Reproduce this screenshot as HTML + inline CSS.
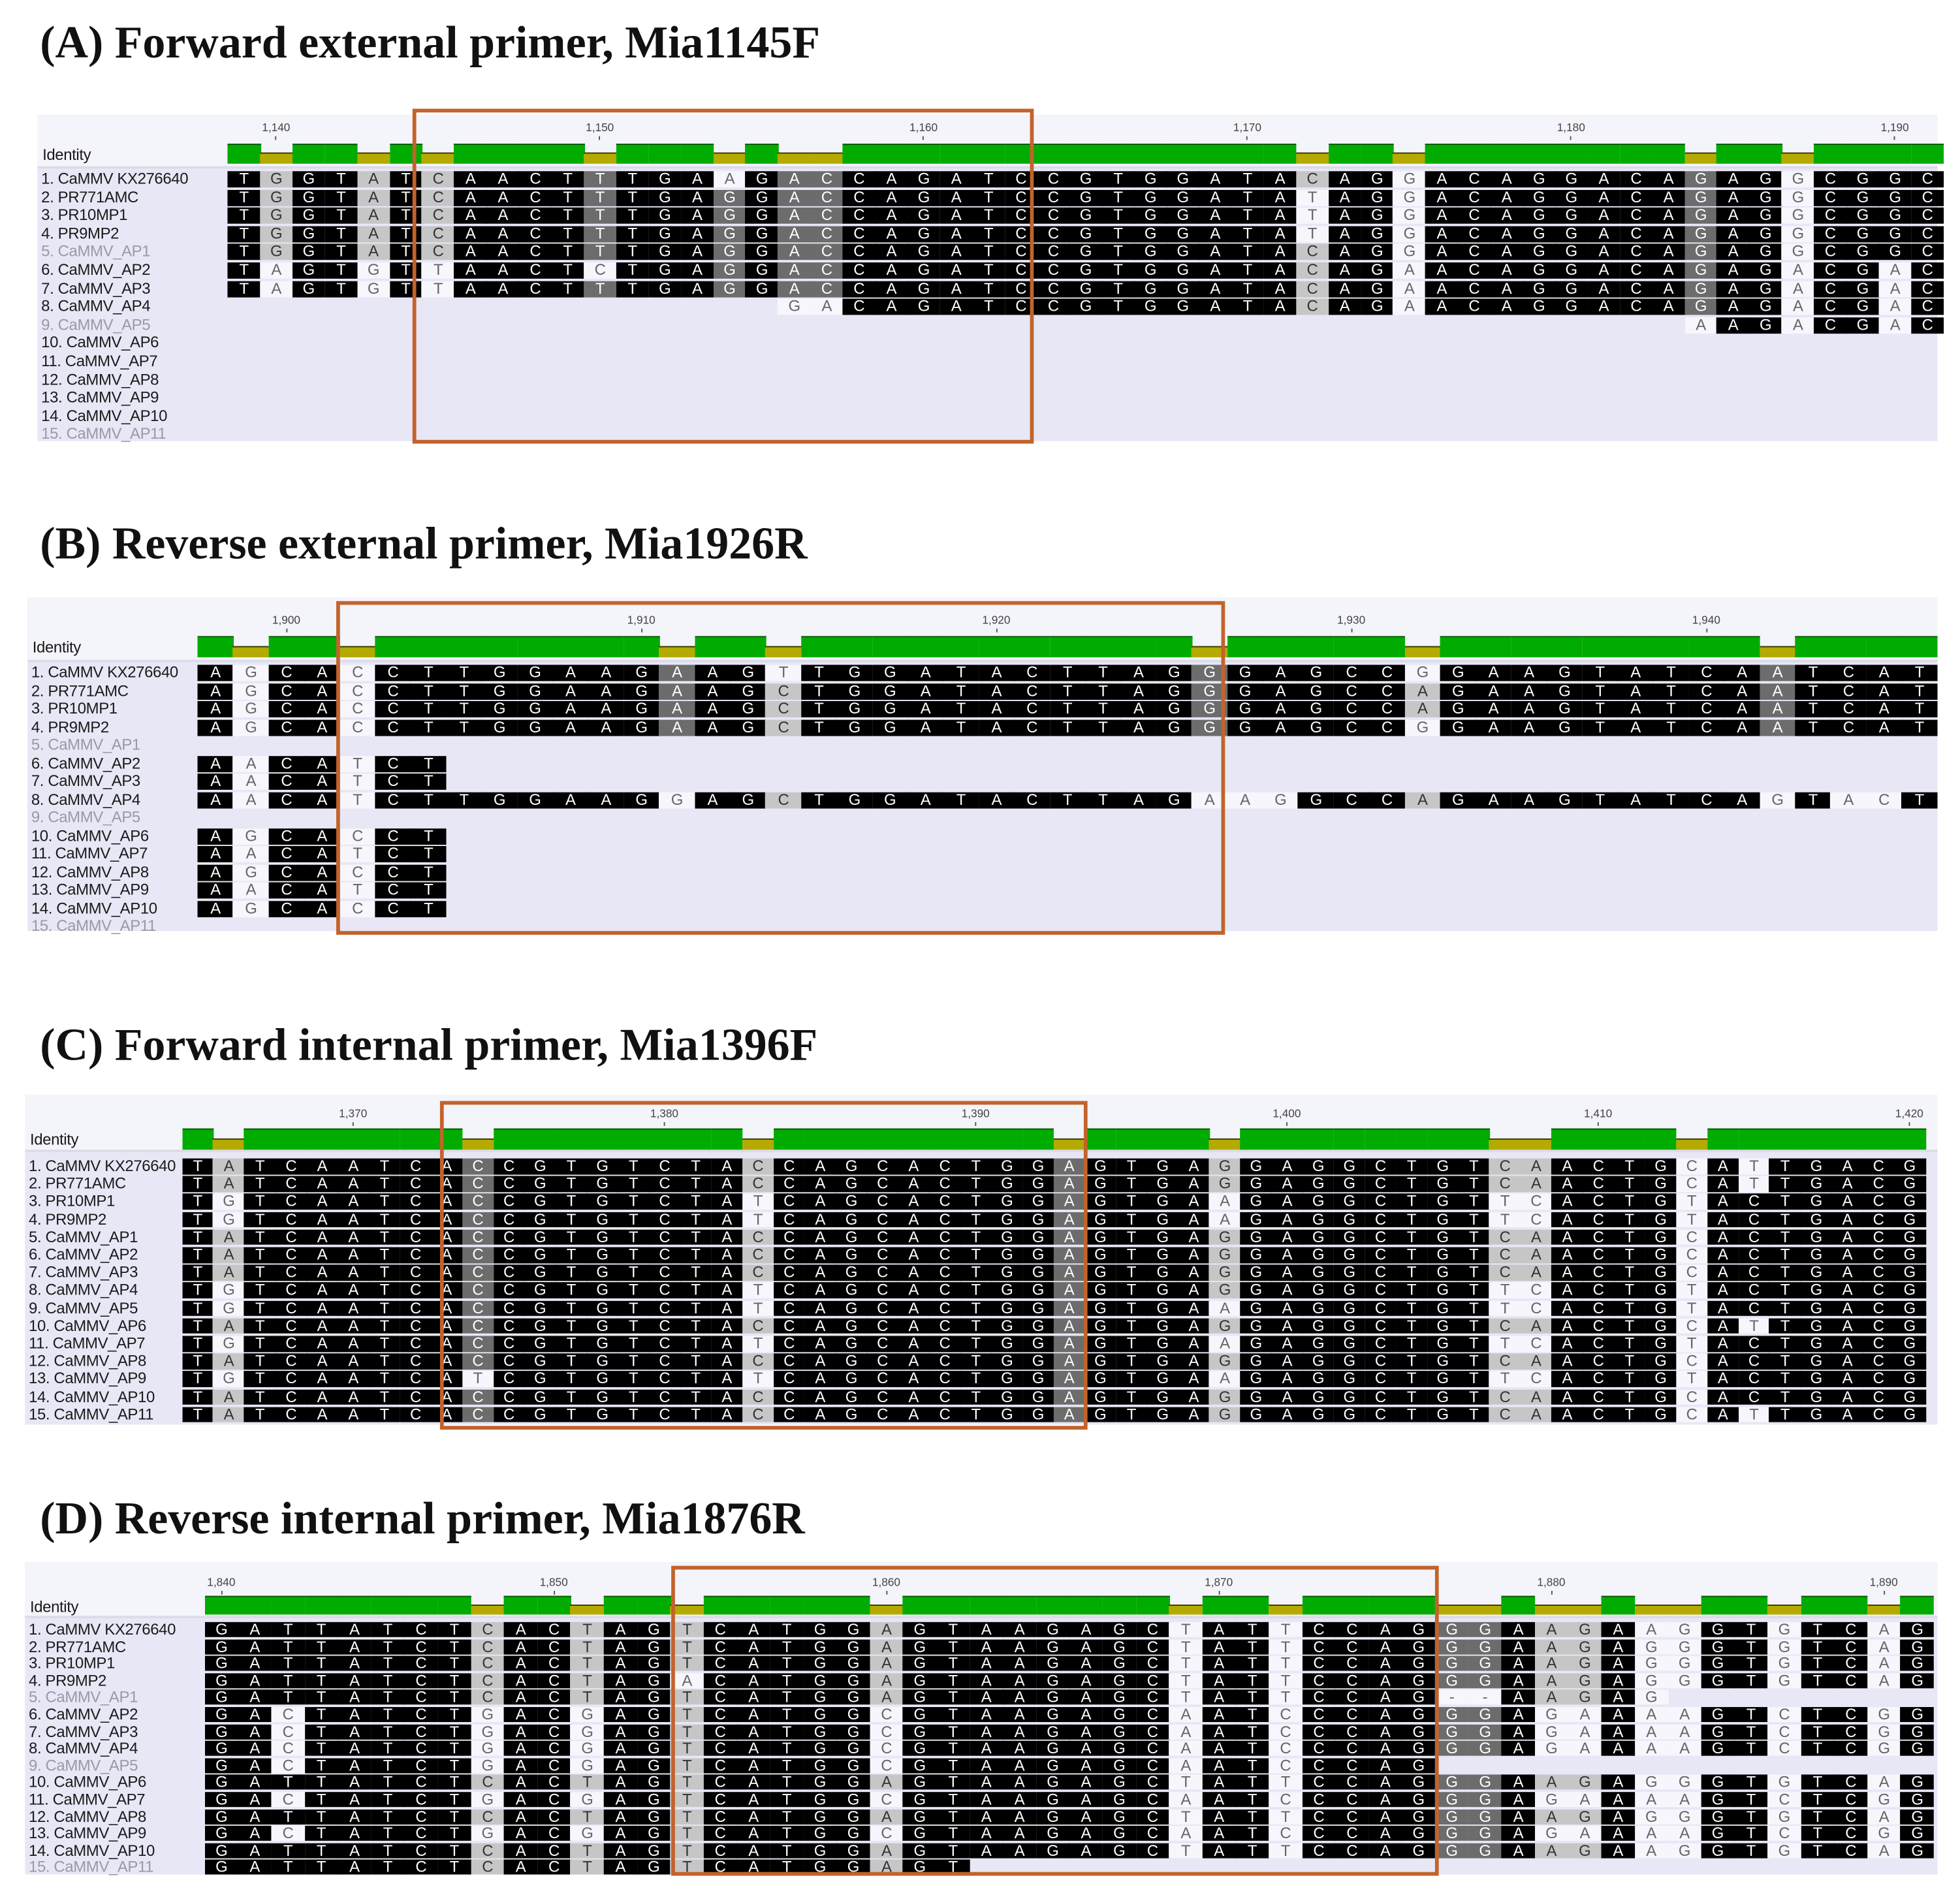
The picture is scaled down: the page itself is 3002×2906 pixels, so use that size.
<!DOCTYPE html>
<html><head><meta charset="utf-8">
<style>
html,body{margin:0;padding:0;background:#fff;}
body{width:3002px;height:2906px;overflow:hidden;position:relative;}
#root{position:absolute;left:0;top:0;width:1568px;height:1518px;transform:scale(1.91454,1.91436);transform-origin:0 0;}
#root div{position:absolute;box-sizing:border-box;}
.t{font-family:"Liberation Serif",serif;font-weight:bold;font-size:36.5px;color:#111;white-space:nowrap;}
.nm{font-family:"Liberation Sans",sans-serif;font-size:12.5px;color:#1a1a1a;white-space:nowrap;line-height:14px;letter-spacing:-0.2px;}
.c{font-family:"Liberation Sans",sans-serif;font-size:12.5px;text-align:center;}
.r{font-family:"Liberation Sans",sans-serif;font-size:9px;color:#444;text-align:center;}
</style></head><body>
<div id="root">
<div class="t" style="left:32px;top:12px;">(A) Forward external primer, Mia1145F</div>
<div class="t" style="left:32px;top:413px;">(B) Reverse external primer, Mia1926R</div>
<div class="t" style="left:32px;top:814px;">(C) Forward internal primer, Mia1396F</div>
<div class="t" style="left:32px;top:1193px;">(D) Reverse internal primer, Mia1876R</div>
</div>
<script>
var root=document.getElementById('root');
function D(x,y,w,h,css,txt,cls){var d=document.createElement('div');d.style.cssText='left:'+x+'px;top:'+y+'px;width:'+w+'px;height:'+h+'px;'+(css||'');if(cls)d.className=cls;if(txt!=null)d.textContent=txt;root.appendChild(d);return d;}
var NAMES=["1. CaMMV KX276640","2. PR771AMC","3. PR10MP1","4. PR9MP2","5. CaMMV_AP1","6. CaMMV_AP2","7. CaMMV_AP3","8. CaMMV_AP4","9. CaMMV_AP5","10. CaMMV_AP6","11. CaMMV_AP7","12. CaMMV_AP8","13. CaMMV_AP9","14. CaMMV_AP10","15. CaMMV_AP11"];
function panel(P){
  D(P.x,P.y,P.w,P.h,'background:#e7e7f6');
  D(P.x,P.y,P.w,P.hb-P.y,'background:#f4f4fb');
  D(P.x,P.hb-2,P.w,2,'background:#dcdce8');
  D(P.x+4,P.idy+2,80,14,'','Identity','nm');
  var n=P.cons.length;
  for(var k=0;k<n;k++){var pos=P.p0+k;if(pos%10==0){var cx=P.sx+P.cw*k+P.cw/2;
    var lab=String(pos).replace(/(\d)(\d{3})$/,'$1,$2');
    D(cx-20,P.ry-6,40,11,'line-height:11px',lab,'r');D(cx-0.5,P.ry+6,1,3,'background:#555');}}
  for(var k=0;k<n;k++){var x=P.sx+P.cw*k;var s=P.st[k];
    if(s=='b'){D(x,P.idy,P.cw+0.6,P.idh,'background:#00ac00;border-top:1px solid #0a5a0a');}
    else{D(x,P.idy+P.idh*0.45,P.cw+0.6,P.idh*0.55,'background:#b4aa00;border-top:1px solid #3a3a00');}}
  for(var r=0;r<15;r++){var y=P.ry0+P.rp*r;
    D(P.x+3,y-1,P.sx-P.x,15,'color:'+(P.gray.indexOf(r)>=0?'#9a9aa6':'#1a1a1a'),NAMES[r],'nm');
    var row=P.rows[r]||'';
    for(var k=0;k<row.length&&k<n;k++){var ch=row[k];if(ch==' ')continue;
      var s=(ch==P.cons[k])?P.st[k]:'n';var bg,fg;
      if(s=='b'){bg='#000';fg='#fff';}else if(s=='d'){bg='#6c6c6c';fg='#fff';}else if(s=='l'){bg='#c6c6c6';fg='#333';}else{bg='#f6f6fc';fg='#666';}
      D(P.sx+P.cw*k,y,P.cw+0.6,P.ch,'background:'+bg+';color:'+fg+';line-height:'+P.ch+'px',ch,'c');}}
  D(P.bx,P.by,P.bw,P.bh,'border:3px solid #c2632b');
}
function setc(s,arr){s=s.split('');for(var i=0;i<arr.length;i+=2){var v=arr[i+1];for(var j=0;j<v.length;j++)s[arr[i]+j]=v[j];}return s.join('');}
function sp(n){return new Array(n+1).join(' ');}

var Acons="TGGTATCAACTTTGAGGACCAGATCCGTGGATACAGGACAGGACAGAGGCGGC";
var Ast="blbblb"+"l"+"bbbb"+"d"+"bbb"+"d"+"b"+"d"+"d"+"bbbbbb"+"bbbbbbbb"+"l"+"bb"+"n"+"bbbbbbbb"+"d"+"bb"+"n"+"bbbb";
var A6="TAGTGTTAACTCTGAGGACCAGATCCGTGGATACAGAACAGGACAGAGACGAC";
panel({x:30,y:92,w:1520,h:261,hb:135,idy:115,idh:16,ry:103,ry0:137,rp:14.6,ch:13,sx:182,cw:25.9,p0:1139,
 cons:Acons,st:Ast,gray:[4,8,14],
 rows:[setc(Acons,[15,"A"]),setc(Acons,[33,"T"]),setc(Acons,[33,"T"]),setc(Acons,[33,"T"]),Acons,A6,setc(A6,[11,"T"]),
   sp(17)+"GA"+"CAGATCCGTGGATACAGAACAGGACAGAGACGAC",sp(45)+"AAGACGAC"],
 bx:330,by:87,bw:497,bh:268});

var Bcons="AGCACCTTGGAAGAAGCTGGATACTTAGGGAGCCAGAAGTATCAATCAT";
var Bst="bnbbn"+"bbbbbbbb"+"d"+"bb"+"l"+"bbbbbbbbbbb"+"d"+"bbbbb"+"l"+"bbbbbbbbbdbbbb";
var B8="AACATCT"+"TGGAAG"+"G"+"AG"+"C"+"TGGATACTTAG"+"AAG"+"GCC"+"A"+"GAAGTATCA"+"G"+"T"+"AC"+"T";
panel({x:22,y:478,w:1528,h:267,hb:530,idy:509,idh:17,ry:497,ry0:532,rp:14.5,ch:13,sx:158,cw:28.4,p0:1898,
 cons:Bcons,st:Bst,gray:[4,8,14],
 rows:[setc(Bcons,[16,"T",34,"G"]),Bcons,Bcons,setc(Bcons,[34,"G"]),"","AACATCT","AACATCT",B8,"",
   "AGCACCT","AACATCT","AGCACCT","AACATCT","AGCACCT"],
 bx:269,by:481,bw:711,bh:267});

var Ccons="TATCAATCACCGTGTCTACCAGCACTGGAGTGAGGAGGCTGTCAACTGCACTGACG";
var Cst="bl"+"bbbbbb"+"b"+"d"+"bbbbbbbb"+"l"+"bbbbbbbbb"+"d"+"bbbb"+"l"+"bbbbbbbb"+"ll"+"bbbb"+"n"+"b"+"b"+"bbbbb";
function cr(a,b,c,d,e,f){return setc(Ccons,[1,a,18,b,33,c,42,d,48,e,50,f]);}
panel({x:20,y:876,w:1530,h:264,hb:922,idy:903,idh:17,ry:892,ry0:927,rp:14.2,ch:12.6,sx:145.5,cw:24.9,p0:1365,
 cons:Ccons,st:Cst,gray:[],
 rows:[cr("A","C","G","CA","C","T"),cr("A","C","G","CA","C","T"),cr("G","T","A","TC","T","C"),cr("G","T","A","TC","T","C"),
  cr("A","C","G","CA","C","C"),cr("A","C","G","CA","C","C"),cr("A","C","G","CA","C","C"),cr("G","T","G","TC","T","C"),
  cr("G","T","A","TC","T","C"),cr("A","C","G","CA","C","T"),cr("G","T","A","TC","T","C"),cr("A","C","G","CA","C","C"),
  setc(cr("G","T","A","TC","T","C"),[9,"T"]),cr("A","C","G","CA","C","C"),cr("A","C","G","CA","C","T")],
 bx:352,by:881,bw:518,bh:263});

var P1="GATTATCTCACTAGT"+"CATGG"+"A"+"GTAAGAGC"+"T"+"AT"+"T"+"CCAG";
var P2="GACTATCTGACGAGT"+"CATGG"+"C"+"GTAAGAGC"+"A"+"AT"+"C"+"CCAG";
var T1="GGAAGAAGGTGTCAG",T2="GGAAGAGGGTGTCAG",T3="GGAGAAAAGTCTCGG";
var Dcons=P1+T2;
var Dst="bbbbbbbb"+"l"+"bb"+"l"+"bb"+"l"+"bbbbb"+"l"+"bbbbbbbb"+"n"+"bb"+"n"+"bbbb"+"ddd"+"l"+"b"+"l"+"nn"+"bb"+"n"+"bb"+"n"+"b";
Dst=setc(Dst,[39,"b",40,"ll",42,"b"]);
panel({x:20,y:1250,w:1530,h:250,hb:1295,idy:1277,idh:15,ry:1267,ry0:1298,rp:13.6,ch:12,sx:163.7,cw:26.6,p0:1840,
 cons:Dcons,st:Dst,gray:[4,8,14],
 rows:[P1+T1,P1+T2,P1+T2,setc(P1,[14,"A"])+T2,P1+"--AAGAG",P2+T3,P2+T3,P2+T3,P2,P1+T2,P2+T3,P1+T2,P2+T3,P1+T1,P1.slice(0,23)],
 bx:537,by:1253,bw:614,bh:248});
</script>
</body></html>
